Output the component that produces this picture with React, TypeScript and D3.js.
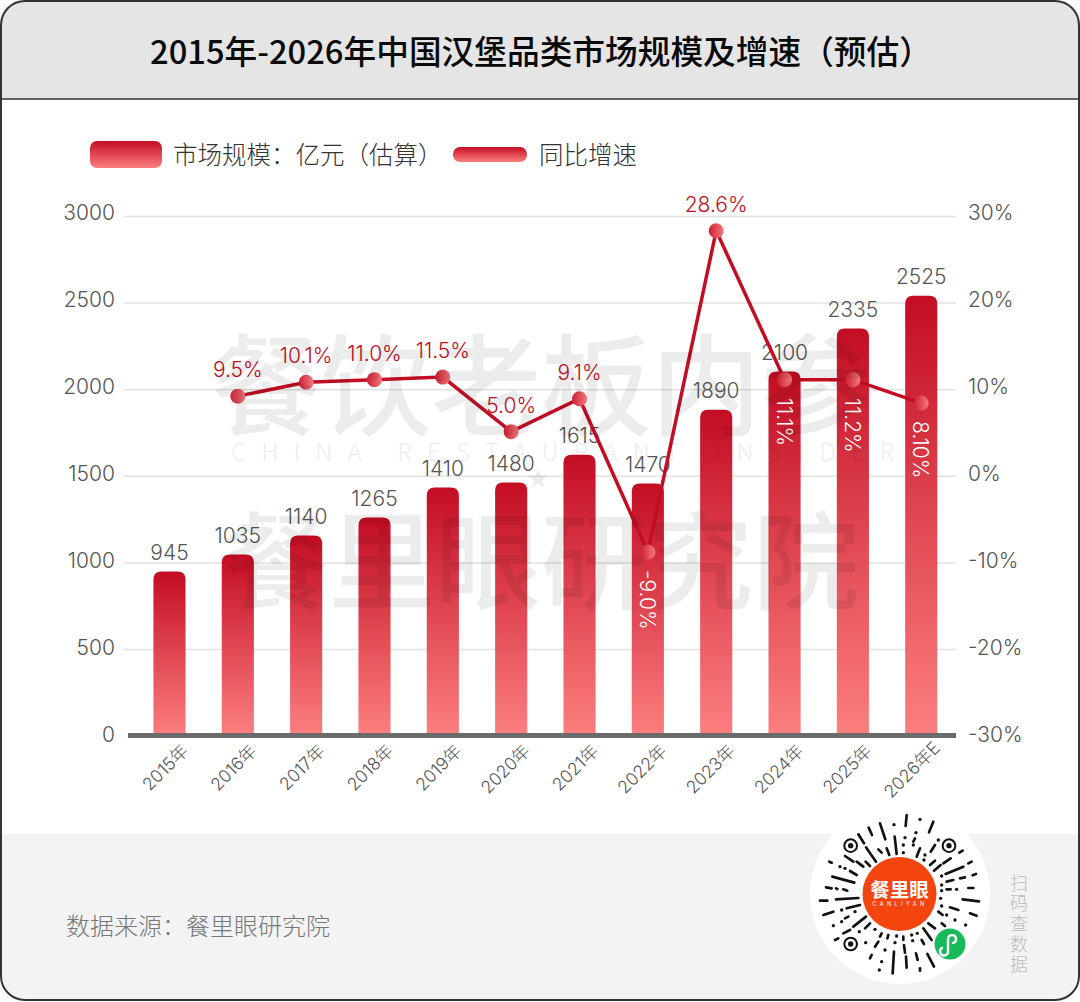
import React, { useEffect, useRef } from "react";
import * as d3 from "d3";

const years = ["2015年", "2016年", "2017年", "2018年", "2019年", "2020年", "2021年", "2022年", "2023年", "2024年", "2025年", "2026年E"];
// bar heights as drawn, these sit a little off the printed labels in the source
const barValues = [947, 1045, 1155, 1259, 1432, 1461, 1622, 1455, 1882, 2102, 2350, 2540];
const barLabels = ["945", "1035", "1140", "1265", "1410", "1480", "1615", "1470", "1890", "2100", "2335", "2525"];
const growthYears = years.slice(1);
const growthValues = [9.2, 10.8, 11.1, 11.4, 5.1, 8.9, -8.8, 28.3, 11.1, 11.1, 8.4];
const growthLabels = ["9.5%", "10.1%", "11.0%", "11.5%", "5.0%", "9.1%", "-9.0%", "28.6%", "11.1%", "11.2%", "8.10%"];
// these labels are turned 90deg and printed inside the bar
const insideLabels = ["-9.0%", "11.1%", "11.2%", "8.10%"];
const leftTicks = [0, 500, 1000, 1500, 2000, 2500, 3000];
const rightTicks = [-30, -20, -10, 0, 10, 20, 30];

// QR decoration in 3x crop pixels
const qrDashes = [
  [320, 45, 317, 78], [400, 65, 387, 97], [240, 70, 256, 118], [206, 83, 216, 105], [284, 110, 290, 162],
  [175, 103, 192, 130], [345, 115, 340, 125], [405, 135, 392, 155], [360, 145, 350, 170], [260, 145, 268, 165],
  [235, 148, 245, 158], [198, 142, 228, 185], [135, 168, 160, 185], [488, 152, 478, 158], [452, 175, 430, 190],
  [405, 182, 390, 195], [170, 185, 190, 200], [197, 185, 210, 198], [88, 185, 95, 188], [150, 213, 170, 225],
  [515, 185, 505, 190], [490, 200, 437, 222], [422, 195, 402, 212], [528, 222, 518, 226], [97, 230, 163, 248],
  [440, 245, 460, 240], [480, 235, 495, 232], [78, 262, 95, 265], [108, 265, 112, 267], [130, 268, 142, 272],
  [440, 268, 452, 268], [505, 264, 520, 264], [60, 302, 82, 302], [108, 298, 175, 294], [488, 298, 537, 304],
  [140, 325, 180, 315], [450, 322, 475, 330], [70, 345, 100, 335], [415, 335, 428, 345], [510, 340, 530, 347],
  [145, 350, 135, 355], [160, 380, 198, 350], [425, 370, 435, 378], [385, 370, 405, 385], [210, 370, 195, 385],
  [130, 400, 150, 390], [105, 420, 115, 415], [370, 385, 395, 420], [245, 400, 240, 410], [265, 405, 262, 415],
  [310, 410, 310, 420], [235, 425, 225, 440], [365, 420, 372, 432], [312, 435, 315, 458], [282, 455, 278, 520],
  [215, 465, 210, 475], [348, 460, 353, 480], [318, 470, 320, 503], [382, 462, 402, 500], [360, 505, 360, 512],
];
const qrDots = [
  [360, 58], [282, 74], [348, 98], [315, 113], [310, 135], [340, 135], [415, 120], [310, 158], [375, 165], [372, 180],
  [120, 200], [135, 205], [425, 228], [425, 255], [470, 268], [425, 272], [422, 295], [425, 318], [125, 330], [440, 345],
  [165, 335], [100, 377], [125, 365], [465, 360], [497, 375], [225, 388], [178, 395], [290, 408], [335, 405], [352, 400],
  [197, 428], [285, 428], [338, 422], [255, 450], [245, 485], [238, 510],
];
const qrFinders = [[152, 137], [447, 137], [152, 432]];
const sideText = ["扫", "码", "查", "数", "据"];

const FONT = "'Noto Sans CJK SC', 'Noto Sans', sans-serif";
const NUM_FONT = "Inter, 'Noto Sans CJK SC', sans-serif";
const TEXT_COLOR = "#555";
const RED = "#c30d23";

const App: React.FC = () => {
  const svgRef = useRef<SVGSVGElement>(null);

  useEffect(() => {
    if (!svgRef.current) return;

    const svg = d3.select(svgRef.current);
    svg.selectAll("*").remove();

    const width = 1080;
    const height = 1002;
    const plotLeft = 124;
    const plotRight = 956;
    const y0 = 735.6;
    const yTop = 216;

    const x = d3.scaleBand<string>().domain(years).range([135.3, 955.4]).paddingInner(0.53).paddingOuter(0.265);
    const y = d3.scaleLinear().domain([0, 3000]).range([y0, yTop]);
    const yRight = d3.scaleLinear().domain([-30, 30]).range([y0, yTop]);
    // tick labels drift a few px up against the grid in the source
    const yLabel = d3.scaleLinear().domain([0, 3000]).range([735, 213]);
    const yRightLabel = d3.scaleLinear().domain([-30, 30]).range([735, 213]);
    const cx = (d: string) => (x(d) || 0) + x.bandwidth() / 2;

    // Gradients
    const defs = svg.append("defs");
    const barGrad = defs.append("linearGradient").attr("id", "barGrad").attr("x1", 0).attr("y1", 0).attr("x2", 0).attr("y2", 1);
    barGrad.append("stop").attr("offset", "0%").attr("stop-color", RED);
    barGrad.append("stop").attr("offset", "100%").attr("stop-color", "#fc7f7f");
    const dotGrad = defs.append("linearGradient").attr("id", "dotGrad").attr("x1", 0).attr("y1", 0).attr("x2", 1).attr("y2", 0);
    dotGrad.append("stop").attr("offset", "0%").attr("stop-color", "#cd1f33");
    dotGrad.append("stop").attr("offset", "100%").attr("stop-color", "#f47a7e");

    // Frame
    svg.append("rect").attr("width", width).attr("height", height).attr("fill", "#fff");
    const clip = defs.append("clipPath").attr("id", "frameClip");
    clip.append("rect").attr("x", 1).attr("y", 1).attr("width", 1078).attr("height", 999).attr("rx", 24);
    const inner = svg.append("g").attr("clip-path", "url(#frameClip)");
    inner.append("rect").attr("width", width).attr("height", 99).attr("fill", "#e5e5e5");
    inner.append("rect").attr("y", 834).attr("width", width).attr("height", 170).attr("fill", "#f3f3f3");
    svg.append("line").attr("x1", 0).attr("x2", width).attr("y1", 99).attr("y2", 99).attr("stroke", "#333").attr("stroke-width", 1.5);
    svg.append("rect").attr("x", 1).attr("y", 1).attr("width", 1078).attr("height", 999).attr("rx", 24)
      .attr("fill", "none").attr("stroke", "#333").attr("stroke-width", 2);

    // Title
    svg.append("text").attr("x", 541).attr("y", 64).attr("text-anchor", "middle")
      .style("font-family", FONT).style("font-size", "32.7px").style("font-weight", 500).attr("fill", "#0a0a0a")
      .text("2015年-2026年中国汉堡品类市场规模及增速（预估）");

    // Legend
    svg.append("rect").attr("x", 90).attr("y", 141).attr("width", 72).attr("height", 27).attr("rx", 7).attr("fill", "url(#barGrad)");
    svg.append("text").attr("x", 173).attr("y", 164)
      .style("font-family", FONT).style("font-size", "24.5px").style("font-weight", 300).attr("fill", "#333")
      .text("市场规模：亿元（估算）");
    svg.append("rect").attr("x", 453).attr("y", 147).attr("width", 74).attr("height", 15).attr("rx", 7).attr("fill", "url(#barGrad)");
    svg.append("text").attr("x", 539).attr("y", 164)
      .style("font-family", FONT).style("font-size", "24.5px").style("font-weight", 300).attr("fill", "#333")
      .text("同比增速");

    // Grid
    const grid = svg.append("g").attr("transform", `translate(${plotLeft},0)`)
      .call(d3.axisRight(y).tickValues(leftTicks.slice(1)).tickSize(plotRight - plotLeft).tickFormat(() => ""));
    grid.select(".domain").remove();
    grid.selectAll("line").attr("stroke", "#e2e2e2").attr("stroke-width", 1.5);

    // Axes labels
    const leftAxis = svg.append("g").attr("transform", "translate(115,0)")
      .call(d3.axisLeft(yLabel).tickValues(leftTicks).tickSize(0).tickPadding(0).tickFormat((d) => String(d)));
    const rightAxis = svg.append("g").attr("transform", "translate(968,0)")
      .call(d3.axisRight(yRightLabel).tickValues(rightTicks).tickSize(0).tickPadding(0)
        .tickFormat((d) => (Number(d) < 0 ? "-" : "") + Math.abs(Number(d)) + "%"));
    [leftAxis, rightAxis].forEach((a) => {
      a.select(".domain").remove();
      a.selectAll("text").attr("fill", TEXT_COLOR).style("font-family", NUM_FONT).style("font-size", "21px").style("font-weight", 300);
    });

    // Bars, rounded on top only
    const barPath = (v: number, d: string) => {
      const r = 8;
      const left = x(d) || 0;
      const right = left + x.bandwidth();
      const p = d3.path();
      p.moveTo(left, y0);
      p.lineTo(left, y(v) + r);
      p.quadraticCurveTo(left, y(v), left + r, y(v));
      p.lineTo(right - r, y(v));
      p.quadraticCurveTo(right, y(v), right, y(v) + r);
      p.lineTo(right, y0);
      p.closePath();
      return p.toString();
    };
    svg.append("g").selectAll("path").data(years).enter().append("path")
      .attr("d", (d, i) => barPath(barValues[i], d))
      .attr("fill", "url(#barGrad)");

    // Baseline
    svg.append("line").attr("x1", 128).attr("x2", plotRight).attr("y1", y0).attr("y2", y0)
      .attr("stroke", "#6b6b6b").attr("stroke-width", 5);

    // Bar labels
    svg.append("g").selectAll("text").data(years).enter().append("text")
      .attr("x", cx)
      .attr("y", (d, i) => y(barValues[i]) - 12)
      .attr("text-anchor", "middle")
      .style("font-family", NUM_FONT).style("font-size", "21px").style("font-weight", 300).attr("fill", TEXT_COLOR)
      .text((d, i) => barLabels[i]);

    // X labels
    svg.append("g").selectAll("text").data(years).enter().append("text")
      .attr("transform", (d) => `translate(${cx(d) + 20},${d.endsWith("E") ? 749 : 752}) rotate(-45)`)
      .attr("text-anchor", "end")
      .style("font-family", NUM_FONT).style("font-size", "17.5px").style("font-weight", 300).attr("fill", TEXT_COLOR)
      .text((d) => d);

    // Growth line
    const line = d3.line<string>().x(cx).y((d, i) => yRight(growthValues[i]));
    svg.append("path").datum(growthYears).attr("d", line).attr("fill", "none").attr("stroke", RED).attr("stroke-width", 3.5);
    svg.append("g").selectAll("circle").data(growthYears).enter().append("circle")
      .attr("cx", cx).attr("cy", (d, i) => yRight(growthValues[i])).attr("r", 7.5).attr("fill", "url(#dotGrad)");

    // Growth labels
    svg.append("g").selectAll("text").data(growthYears).enter().append("text")
      .attr("transform", (d, i) => {
        const py = yRight(growthValues[i]);
        return insideLabels.includes(growthLabels[i])
          ? `translate(${cx(d) - 8},${py + 18}) rotate(90)`
          : `translate(${cx(d)},${py - 19})`;
      })
      .attr("text-anchor", (d, i) => (insideLabels.includes(growthLabels[i]) ? "start" : "middle"))
      .style("font-family", NUM_FONT).style("font-size", "21px").style("font-weight", 300)
      .attr("fill", (d, i) => (insideLabels.includes(growthLabels[i]) ? "#fff" : RED))
      .text((d, i) => growthLabels[i]);

    // Watermark
    const mark = svg.append("g").attr("fill", "#000").style("font-family", FONT).attr("opacity", 0.07).style("pointer-events", "none");
    mark.append("text").attr("x", 541).attr("y", 427).attr("text-anchor", "middle")
      .style("font-size", "110px").style("font-weight", 500).text("餐饮老板内参");
    mark.append("text").attr("x", 541).attr("y", 601).attr("text-anchor", "middle")
      .style("font-size", "106px").style("font-weight", 500).text("餐里眼研究院");
    mark.append("text").attr("x", 231).attr("y", 461)
      .style("font-size", "24px").style("font-weight", 300).style("letter-spacing", "15.2px").text("CHINA RESTAURANT INSIDER");
    mark.append("path").attr("d", d3.symbol(d3.symbolStar, 130)()).attr("transform", "translate(538,479)");

    // Footer
    svg.append("text").attr("x", 66).attr("y", 935)
      .style("font-family", FONT).style("font-size", "24px").style("font-weight", 300).attr("fill", "#777")
      .text("数据来源：餐里眼研究院");

    // QR badge
    svg.append("circle").attr("cx", 900).attr("cy", 894).attr("r", 90).attr("fill", "#fff");
    const qr = svg.append("g").attr("transform", "translate(800,800) scale(0.3333)");
    qr.selectAll("line").data(qrDashes).enter().append("line")
      .attr("x1", (d) => d[0]).attr("y1", (d) => d[1]).attr("x2", (d) => d[2]).attr("y2", (d) => d[3])
      .attr("stroke", "#111").attr("stroke-width", 8).attr("stroke-linecap", "round");
    qr.selectAll("circle.dot").data(qrDots).enter().append("circle").attr("class", "dot")
      .attr("cx", (d) => d[0]).attr("cy", (d) => d[1]).attr("r", 5).attr("fill", "#111");
    qrFinders.forEach(([fx, fy]) => {
      qr.append("circle").attr("cx", fx).attr("cy", fy).attr("r", 19).attr("fill", "none").attr("stroke", "#111").attr("stroke-width", 6);
      qr.append("circle").attr("cx", fx).attr("cy", fy).attr("r", 8).attr("fill", "#111");
    });
    svg.append("circle").attr("cx", 899.5).attr("cy", 894).attr("r", 37).attr("fill", "#f4450f");
    svg.append("text").attr("x", 899.5).attr("y", 897).attr("text-anchor", "middle")
      .style("font-family", FONT).style("font-size", "19.5px").style("font-weight", 700).attr("fill", "#fff").text("餐里眼");
    svg.append("text").attr("x", 900).attr("y", 906).attr("text-anchor", "middle")
      .style("font-family", "Inter, sans-serif").style("font-size", "5.5px").style("letter-spacing", "3.4px").attr("fill", "#fff").text("CANLIYAN");
    svg.append("circle").attr("cx", 950).attr("cy", 944).attr("r", 15.5).attr("fill", "#17b95b");
    svg.append("path").attr("d", "M942 948 a4 4 0 1 0 6 3 l0 -12 a4 4 0 1 1 5 4")
      .attr("fill", "none").attr("stroke", "#fff").attr("stroke-width", 2.4).attr("stroke-linecap", "round");

    // Side note
    svg.append("g").selectAll("text").data(sideText).enter().append("text")
      .attr("x", 1019).attr("y", (d, i) => 890 + i * 20.2).attr("text-anchor", "middle")
      .style("font-family", FONT).style("font-size", "18px").style("font-weight", 300).attr("fill", "#bbb")
      .text((d) => d);
  }, []);

  return <svg ref={svgRef} width={1080} height={1002} style={{ position: "absolute", left: 0, top: 0 }}></svg>;
};

export default App;
